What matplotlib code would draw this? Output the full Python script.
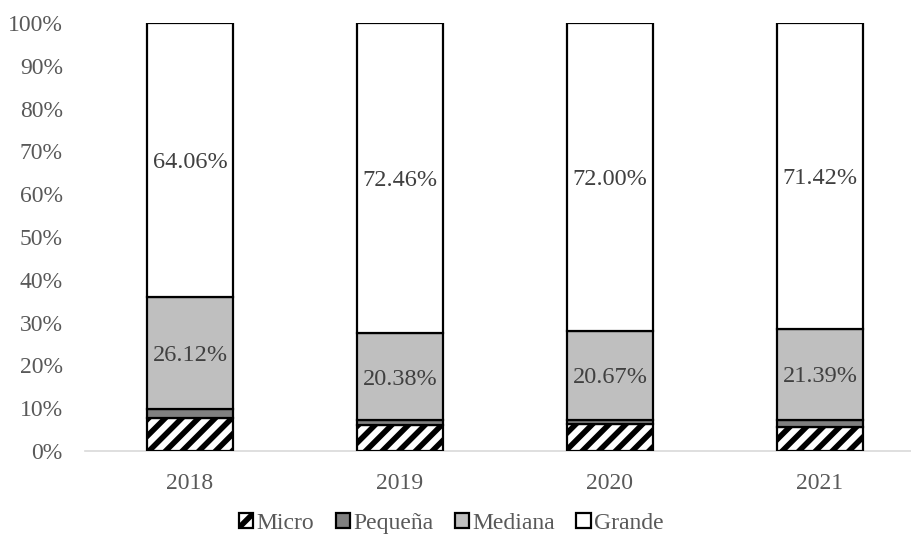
import matplotlib
matplotlib.use("Agg")
import matplotlib.pyplot as plt
from matplotlib.ticker import PercentFormatter

plt.rcParams["font.family"] = ["Liberation Serif", "DejaVu Serif"]
plt.rcParams["hatch.linewidth"] = 4.0

years = ["2018", "2019", "2020", "2021"]
micro = [7.80, 6.10, 6.30, 5.70]
pequena = [2.02, 1.06, 1.03, 1.49]
mediana = [26.12, 20.38, 20.67, 21.39]
grande = [64.06, 72.46, 72.00, 71.42]

series = [
    ("Micro", micro, dict(facecolor="white", hatch="//")),
    ("Pequeña", pequena, dict(facecolor="#808080")),
    ("Mediana", mediana, dict(facecolor="#BFBFBF")),
    ("Grande", grande, dict(facecolor="white")),
]
labelled = {"Mediana", "Grande"}

fig = plt.figure(figsize=(9.12, 5.39), dpi=100)
ax = fig.add_axes([85 / 912, 88 / 539, 840 / 912, 428 / 539])

x = range(len(years))
bottom = [0.0] * len(years)
for name, vals, style in series:
    ax.bar(x, vals, width=0.405, bottom=bottom, edgecolor="black",
           linewidth=1.6, label=name, zorder=3, **style)
    if name in labelled:
        for xi, b, v in zip(x, bottom, vals):
            ax.text(xi, b + v / 2, f"{v:.2f}%", ha="center", va="center_baseline",
                    fontsize=17.5, color="#404040", zorder=4)
    bottom = [b + v for b, v in zip(bottom, vals)]

ax.set_xlim(-0.5, len(years) - 0.5)
ax.set_ylim(0, 100)
ax.set_yticks(range(0, 101, 10))
ax.yaxis.set_major_formatter(PercentFormatter(decimals=0))
ax.set_xticks(list(x))
ax.set_xticklabels(years)
ax.tick_params(axis="both", length=0, labelsize=17, colors="#595959")
ax.tick_params(axis="x", pad=16)
ax.tick_params(axis="y", pad=16)
for side in ("top", "right", "left"):
    ax.spines[side].set_visible(False)
ax.spines["bottom"].set_color("#D9D9D9")
ax.spines["bottom"].set_linewidth(1.2)

fig.legend(loc="lower center", bbox_to_anchor=(0.495, -0.03), ncol=4,
           frameon=False, fontsize=17, handlelength=0.6, handleheight=0.6,
           handletextpad=0.15, columnspacing=0.9, labelcolor="#595959")

fig.savefig("out.png", dpi=100)
